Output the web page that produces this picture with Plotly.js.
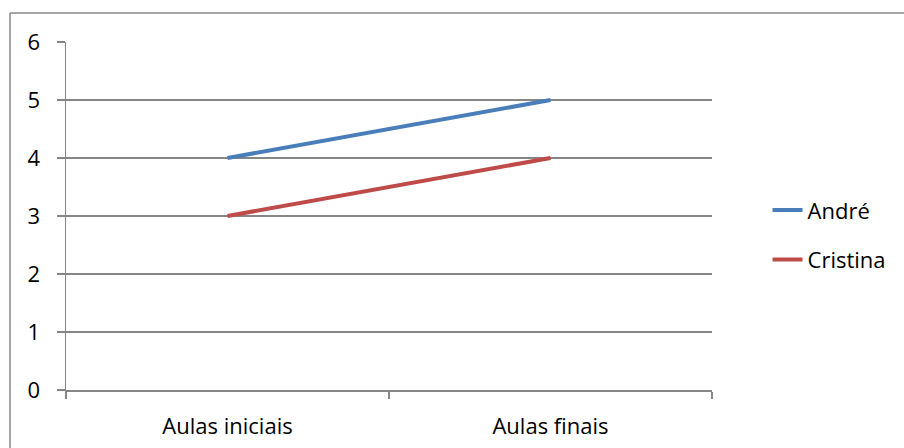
<!DOCTYPE html>
<html>
<head>
<meta charset="utf-8">
<script src="https://cdn.plot.ly/plotly-3.0.1.min.js"></script>
<style>html,body{margin:0;padding:0;background:#fff;}#chart{width:904px;height:448px;}</style>
</head>
<body>
<div id="chart"></div>
<script>
const categories = ["Aulas iniciais", "Aulas finais"];
const andre = [4, 5];
const cristina = [3, 4];
const seriesNames = ["André", "Cristina"];

const gridColor = "#868686";
const font = {family: "'Open Sans', sans-serif", size: 22, color: "#000"};

const traces = [
  {x: categories, y: andre, name: seriesNames[0], type: "scatter", mode: "lines",
   line: {color: "#4A7EBB", width: 4}, legendgroup: "a"},
  {x: categories, y: cristina, name: seriesNames[1], type: "scatter", mode: "lines",
   line: {color: "#BE4B48", width: 4}, legendgroup: "b"}
];

const layout = {
  width: 904, height: 448,
  margin: {l: 66, r: 192, t: 42, b: 58},
  paper_bgcolor: "#fff", plot_bgcolor: "#fff",
  font: font,
  showlegend: true,
  legend: {x: 1.086, y: 0.445, xanchor: "left", yanchor: "middle", font: font,
           tracegroupgap: 18, bgcolor: "rgba(0,0,0,0)"},
  xaxis: {type: "category", range: [-0.5, 1.5], tickson: "boundaries",
          ticks: "outside", ticklen: 7, tickcolor: gridColor, tickwidth: 1.5,
          showline: true, linecolor: gridColor, linewidth: 1.5,
          showgrid: false, zeroline: false, ticklabelstandoff: 16, fixedrange: true},
  yaxis: {range: [0, 6], dtick: 1, ticks: "outside", ticklen: 8, tickcolor: gridColor, tickwidth: 1.5,
          showline: true, linecolor: gridColor, linewidth: 1.5,
          showgrid: true, gridcolor: gridColor, gridwidth: 1.5, zeroline: false,
          ticklabelstandoff: 12, fixedrange: true},
  shapes: [
    {type: "line", xref: "paper", yref: "paper", x0: -0.0867, x1: 1.5, y0: 1.0833, y1: 1.0833,
     line: {color: "#888", width: 1.5}},
    {type: "line", xref: "paper", yref: "paper", x0: -0.0867, x1: -0.0867, y0: 1.0833, y1: -0.5,
     line: {color: "#888", width: 1.5}}
  ]
};

Plotly.newPlot("chart", traces, layout, {displayModeBar: false, staticPlot: true});
</script>
</body>
</html>
